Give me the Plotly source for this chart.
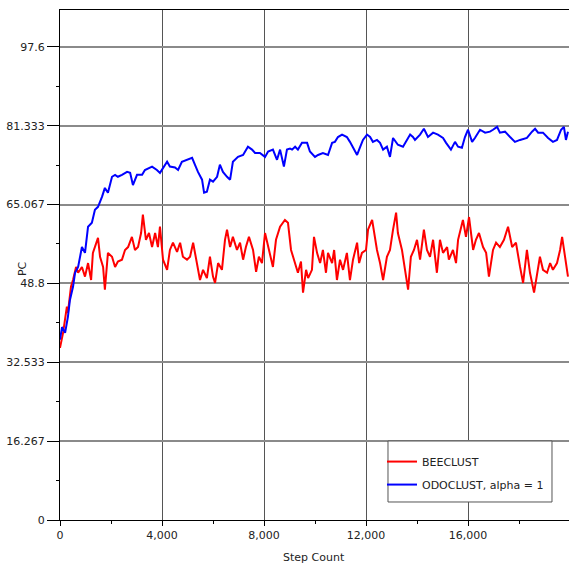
import plotly.graph_objects as go

# ODOCLUST, alpha = 1 (blue)
odo_steps = [0, 80, 200, 310, 390, 510, 590, 710, 860, 980, 1100, 1250, 1370, 1490, 1650, 1760, 1880,
             2040, 2160, 2270, 2430, 2630, 2750, 2860, 3020, 3220, 3330, 3610, 3800, 3920, 4200, 4310,
             4510, 4630, 4780, 5020, 5180, 5290, 5410, 5570, 5650, 5760, 5880, 6000, 6160, 6270, 6390,
             6550, 6670, 6780, 6980, 7180, 7370, 7530, 7650, 7840, 8040, 8160, 8350, 8510, 8630, 8780,
             8900, 9020, 9100, 9220, 9330, 9490, 9690, 9800, 10000, 10120, 10310, 10510, 10670, 10780,
             10900, 11060, 11250, 11370, 11490, 11650, 11760, 11880, 12040, 12160, 12270, 12430, 12550,
             12670, 12820, 12940, 13060, 13250, 13450, 13610, 13730, 13840, 13920, 14120, 14270, 14430,
             14630, 14820, 15020, 15140, 15330, 15490, 15610, 15760, 15880, 16000, 16160, 16270, 16470,
             16670, 16860, 16980, 17140, 17250, 17450, 17650, 17840, 18040, 18310, 18510, 18630, 18750,
             18940, 19140, 19330, 19490, 19650, 19760, 19840, 19920]
odo_pc = [37.2, 39.8, 38.6, 41.9, 45.4, 48.1, 51.0, 52.2, 56.3, 55.1, 60.5, 61.3, 64.0, 64.6, 66.7, 68.5, 67.5,
          70.8, 71.2, 70.8, 71.2, 71.8, 71.6, 69.1, 71.2, 71.2, 72.2, 72.9, 72.2, 71.6, 73.9, 72.9,
          72.7, 72.2, 73.9, 74.3, 74.7, 73.3, 71.8, 70.2, 67.5, 67.7, 70.2, 69.8, 70.8, 73.3, 71.8,
          70.8, 70.2, 73.9, 74.9, 75.3, 77.0, 76.4, 75.7, 75.7, 74.9, 76.0, 76.4, 74.3, 76.4, 72.9,
          76.4, 76.6, 76.4, 77.0, 76.4, 77.8, 77.8, 76.0, 74.9, 75.3, 75.7, 75.3, 77.8, 78.0,
          79.0, 79.5, 79.0, 78.0, 76.8, 75.3, 76.8, 78.4, 79.5, 79.0, 78.0, 78.4, 77.8,
          76.4, 77.0, 74.9, 78.8, 77.4, 77.0, 78.4, 79.5, 79.0, 78.4, 79.5, 80.7, 79.0,
          79.9, 79.5, 78.8, 77.8, 76.4, 78.0, 77.0, 76.8, 79.0, 80.5, 78.0, 78.8, 80.5,
          79.9, 80.1, 80.5, 81.1, 79.9, 80.1, 79.0, 78.0, 78.4, 78.8, 80.1, 80.7, 79.9,
          79.9, 78.8, 78.0, 78.4, 80.5, 81.1, 78.4, 80.1]

# BEECLUST (red)
bee_steps = [0, 120, 270, 310, 430, 510, 630, 710, 860, 980, 1100, 1220, 1290, 1490, 1570, 1690, 1760, 1880,
             2040, 2160, 2270, 2430, 2550, 2670, 2820, 2940, 3060, 3180, 3250, 3370, 3490, 3610, 3730, 3840,
             3920, 4040, 4200, 4310, 4430, 4590, 4710, 4820, 4980, 5100, 5220, 5370, 5490, 5610, 5760,
             5880, 6000, 6080, 6200, 6350, 6470, 6550, 6670, 6780, 6940, 7060, 7180, 7290, 7410, 7570,
             7690, 7800, 7920, 8040, 8160, 8350, 8470, 8630, 8820, 8940, 9060, 9220, 9330, 9450, 9530,
             9650, 9730, 9880, 9960, 10080, 10200, 10310, 10430, 10510, 10670, 10750, 10860, 10980, 11100,
             11250, 11370, 11490, 11650, 11730, 11840, 12000, 12080, 12240, 12310, 12430, 12550, 12670,
             12820, 12940, 13060, 13180, 13250, 13410, 13530, 13650, 13760, 13880, 14000, 14120, 14270,
             14390, 14510, 14630, 14780, 14900, 15020, 15180, 15250, 15410, 15530, 15610, 15800, 15920,
             16040, 16200, 16310, 16430, 16590, 16710, 16820, 16980, 17100, 17250, 17410, 17570, 17730,
             17880, 18040, 18160, 18310, 18430, 18590, 18710, 18820, 18940, 19100, 19220, 19330, 19490,
             19610, 19690, 19800, 19920]
bee_pc = [35.5, 38.6, 44.0, 42.7, 48.1, 49.5, 52.2, 51.0, 52.2, 50.2, 53.0, 49.5, 55.1, 58.2, 54.3, 52.2, 47.5, 55.1,
          54.3, 52.2, 53.3, 53.7, 55.7, 56.3, 58.4, 55.7, 56.3, 59.2, 63.0, 57.8, 59.2, 56.3, 59.2, 56.3,
          60.5, 53.7, 51.6, 55.7, 57.2, 55.3, 57.2, 54.3, 53.7, 54.3, 57.2, 53.0, 49.5, 51.6, 49.9,
          54.3, 50.2, 48.9, 53.0, 51.6, 57.8, 59.9, 56.3, 58.4, 55.7, 57.2, 53.7, 56.3, 58.4, 55.7,
          51.2, 54.3, 53.0, 59.2, 56.3, 52.2, 57.8, 60.5, 61.9, 61.3, 55.7, 53.0, 51.0, 53.3, 46.9,
          51.6, 49.9, 51.6, 58.4, 55.1, 53.0, 55.7, 51.0, 55.1, 53.0, 55.7, 49.5, 53.7, 51.6,
          55.1, 49.5, 53.7, 57.2, 53.0, 55.1, 55.7, 59.9, 61.9, 59.2, 55.7, 53.0, 49.5,
          54.3, 55.7, 59.9, 63.4, 59.2, 55.7, 51.6, 47.5, 54.3, 55.7, 57.8, 53.7, 59.9,
          55.7, 54.3, 57.8, 51.0, 57.8, 55.1, 56.3, 53.7, 55.7, 53.0, 57.8, 61.9, 58.4,
          62.5, 55.7, 57.8, 59.2, 56.3, 55.1, 50.2, 55.7, 57.2, 56.3, 57.8, 60.5, 56.3,
          57.2, 52.2, 48.9, 55.7, 51.0, 46.9, 51.0, 54.3, 51.6, 51.0, 53.0, 51.6, 53.0,
          55.7, 58.4, 54.3, 50.2]

y_tickvals = [0, 16.267, 32.533, 48.8, 65.067, 81.333, 97.6]
y_ticktext = ["0", "16.267", "32.533", "48.8", "65.067", "81.333", "97.6"]
x_tickvals = [0, 4000, 8000, 12000, 16000]
x_ticktext = ["0", "4,000", "8,000", "12,000", "16,000"]

fig = go.Figure()
fig.add_trace(go.Scatter(x=bee_steps, y=bee_pc, mode="lines", name="BEECLUST",
                         legendgroup="bee", line=dict(color="#ff0000", width=2)))
fig.add_trace(go.Scatter(x=odo_steps, y=odo_pc, mode="lines", name="ODOCLUST, alpha = 1",
                         legendgroup="odo", line=dict(color="#0000ff", width=2)))

font_family = "DejaVu Sans, Verdana, sans-serif"
txt = "#222"

fig.update_layout(
    width=569, height=564,
    margin=dict(l=60, r=0, t=10, b=44, autoexpand=False),
    paper_bgcolor="white", plot_bgcolor="white",
    font=dict(family=font_family, size=11, color=txt),
    showlegend=True,
    legend=dict(x=0.6326, y=0.143, xanchor="left", yanchor="top",
                bgcolor="rgba(0,0,0,0)", borderwidth=0,
                font=dict(size=11, color=txt), tracegroupgap=4,
                itemwidth=30),
    xaxis=dict(range=[0, 19960], tickvals=x_tickvals, ticktext=x_ticktext,
               showgrid=True, gridcolor="#555555", gridwidth=1, automargin=False,
               showline=True, linecolor="black", linewidth=1, mirror=True,
               ticks="outside", ticklen=5, tickcolor="black", zeroline=False,
               minor=dict(tickmode="linear", tick0=2000, dtick=4000, ticks="outside",
                          ticklen=3, tickcolor="black", showgrid=False),
               tickfont=dict(size=11)),
    yaxis=dict(range=[0, 105.2], tickvals=y_tickvals, ticktext=y_ticktext,
               showgrid=True, gridcolor="#8a8a8a", gridwidth=2, automargin=False,
               showline=True, linecolor="black", linewidth=1,
               ticks="outside", ticklen=12, tickcolor="black", zeroline=False,
               minor=dict(tickmode="linear", tick0=8.1333, dtick=16.2667, ticks="outside",
                          ticklen=3, tickcolor="black", showgrid=False),
               tickfont=dict(size=11)),
    shapes=[dict(type="rect", xref="paper", yref="paper",
                 x0=0.6444, x1=0.9666, y0=0.0353, y1=0.1549,
                 fillcolor="white", line=dict(color="#555555", width=1), layer="above")],
    annotations=[
        dict(text="Step Count", xref="paper", yref="paper", x=0.499, y=0,
             xanchor="center", yanchor="middle", yshift=-37, showarrow=False,
             font=dict(size=11, color=txt)),
        dict(text="PC", xref="paper", yref="paper", x=-0.0747, y=0.494,
             xanchor="center", yanchor="middle", textangle=-90, showarrow=False,
             font=dict(size=11, color=txt)),
    ],
)

fig.write_html("out.html", config={"displayModeBar": False},
               post_script="document.body.style.margin='0px';document.body.style.overflow='hidden';")
